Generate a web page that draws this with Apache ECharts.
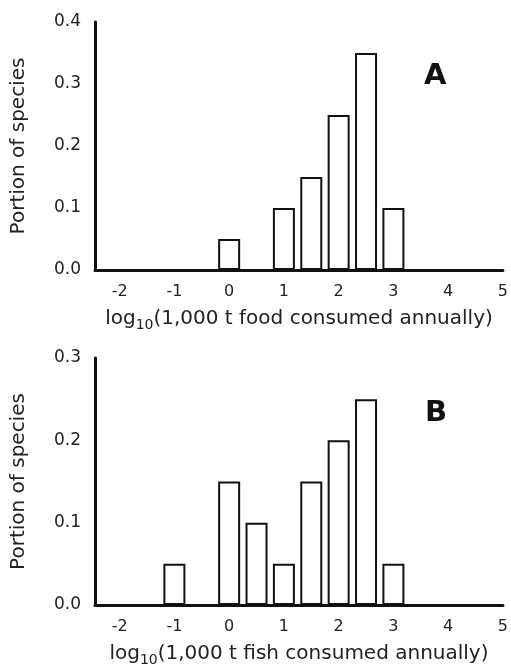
<!DOCTYPE html>
<html>
<head>
<meta charset="utf-8">
<script src="https://cdn.jsdelivr.net/npm/echarts@6/dist/echarts.min.js"></script>
<style>
  html, body { margin: 0; padding: 0; background: #fff; }
  #chart { width: 511px; height: 669px; }
</style>
</head>
<body>
<div id="chart"></div>
<script>
// Panel A: food consumed, bin centres (log10 of 1,000 t) and portion of species
const foodBins = [0, 1, 1.5, 2, 2.5, 3];
const foodPortion = [0.05, 0.1, 0.15, 0.25, 0.35, 0.1];

// Panel B: fish consumed
const fishBins = [-1, 0, 0.5, 1, 1.5, 2, 2.5, 3];
const fishPortion = [0.05, 0.15, 0.1, 0.05, 0.15, 0.2, 0.25, 0.05];

const yTicksA = [0, 0.1, 0.2, 0.3, 0.4];
const yTicksB = [0, 0.1, 0.2, 0.3];
const xTickLabels = [-2, -1, 0, 1, 2, 3, 4, 5];

const FONT = 'DejaVu Sans';
const INK = '#111';

function pairs(xs, ys) { return xs.map((x, i) => [x, ys[i]]); }

function xAxisFor(gridIndex, word) {
  return {
    type: 'value', gridIndex,
    min: -2.45, max: 5, interval: 0.05,
    axisLine: { show: true, onZero: false, lineStyle: { color: INK, width: 3 } },
    axisTick: { show: false },
    splitLine: { show: false },
    axisLabel: {
      margin: 14, fontFamily: FONT, fontSize: 16, color: '#222',
      formatter: v => {
        const r = Math.round(v);
        return (Math.abs(v - r) < 1e-6 && xTickLabels.includes(r)) ? String(r) : '';
      }
    },
    name: '{m|log}{s|10}{m|(1,000 t ' + word + ' consumed annually)}',
    nameLocation: 'middle', nameGap: 36,
    nameTextStyle: {
      fontFamily: FONT, color: '#222',
      rich: {
        m: { fontFamily: FONT, fontSize: 20, color: '#222' },
        s: { fontFamily: FONT, fontSize: 14, color: '#222', padding: [12, 0, 0, 0] }
      }
    }
  };
}

function yAxisFor(gridIndex, ticks) {
  return {
    type: 'value', gridIndex,
    min: 0, max: ticks[ticks.length - 1], interval: 0.1,
    axisLine: { show: true, onZero: false, lineStyle: { color: INK, width: 3 } },
    axisTick: { show: false },
    splitLine: { show: false },
    axisLabel: {
      margin: 14, fontFamily: FONT, fontSize: 17, color: '#222',
      formatter: v => v.toFixed(1)
    },
    name: 'Portion of species',
    nameLocation: 'middle', nameGap: 66, nameRotate: 90,
    nameTextStyle: { fontFamily: FONT, fontSize: 20, color: '#222' }
  };
}

function barsFor(axisIndex, xs, ys) {
  return {
    type: 'bar', xAxisIndex: axisIndex, yAxisIndex: axisIndex,
    data: pairs(xs, ys), barWidth: 22,
    itemStyle: { color: '#fff', borderColor: INK, borderWidth: 2 },
    z: 1
  };
}

const chart = echarts.init(document.getElementById('chart'), null, { renderer: 'canvas' });
chart.setOption({
  animation: false,
  backgroundColor: '#fff',
  grid: [
    { left: 95, right: 4, top: 22, height: 248 },
    { left: 95, right: 4, top: 358, height: 247 }
  ],
  xAxis: [xAxisFor(0, 'food'), xAxisFor(1, 'fish')],
  yAxis: [yAxisFor(0, yTicksA), yAxisFor(1, yTicksB)],
  series: [barsFor(0, foodBins, foodPortion), barsFor(1, fishBins, fishPortion)],
  graphic: [
    { type: 'text', left: 424, top: 62, style: { text: 'A', font: 'bold 29px "DejaVu Sans"', fill: '#111' } },
    { type: 'text', left: 425, top: 399, style: { text: 'B', font: 'bold 29px "DejaVu Sans"', fill: '#111' } }
  ]
});
</script>
</body>
</html>
